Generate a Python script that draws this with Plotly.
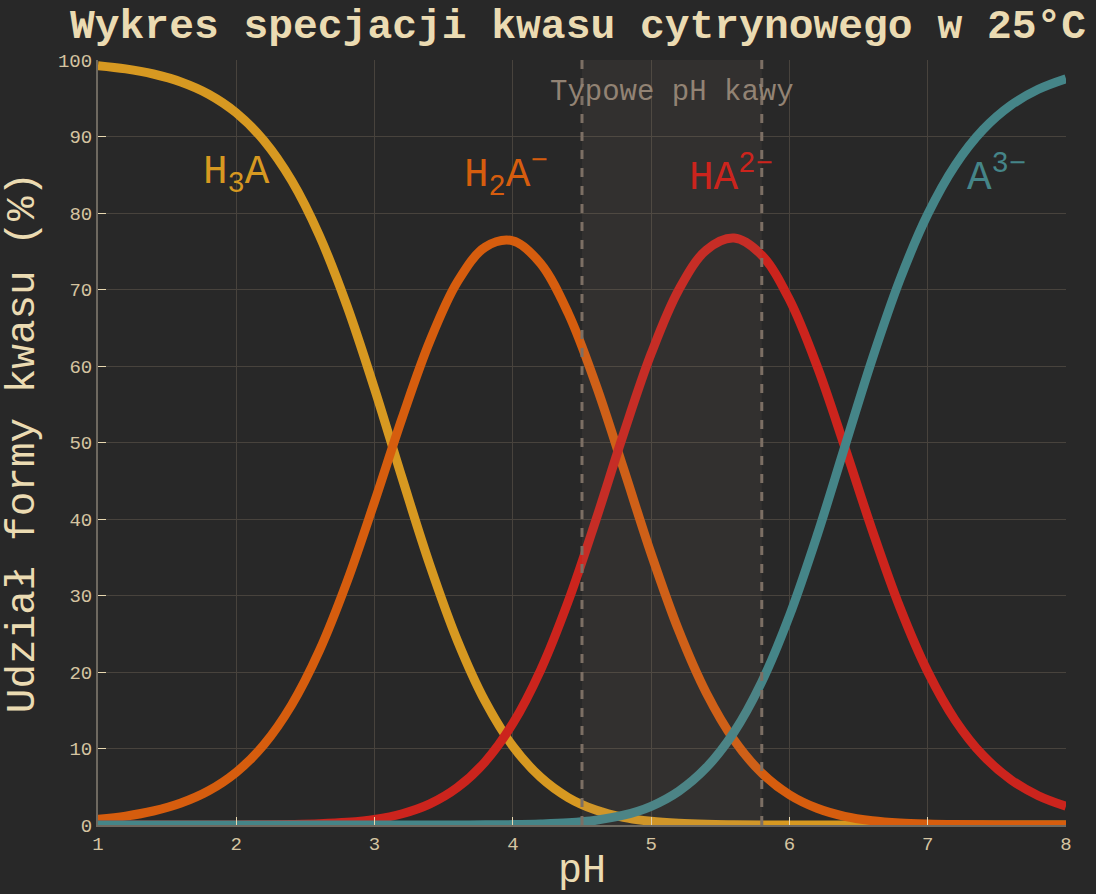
import plotly.graph_objects as go

ph = [1.0, 1.2, 1.4, 1.6, 1.8, 2.0, 2.2, 2.4, 2.6, 2.8, 3.0, 3.2, 3.4, 3.6, 3.8,
      4.0, 4.2, 4.4, 4.6, 4.8, 5.0, 5.2, 5.4, 5.6, 5.8, 6.0, 6.2, 6.4, 6.6, 6.8,
      7.0, 7.2, 7.4, 7.6, 7.8, 8.0]
h3a = [99.26, 98.84, 98.17, 97.13, 95.53, 93.09, 89.46, 84.24, 77.09, 67.89,
       57.01, 45.30, 33.97, 24.06, 16.15, 10.30, 6.25, 3.59, 1.95, 1.00,
       0.48, 0.22, 0.09, 0.04, 0.01, 0.01, 0.00, 0.00, 0.00, 0.00,
       0.00, 0.00, 0.00, 0.00, 0.00, 0.00]
h2a = [0.74, 1.16, 1.83, 2.87, 4.47, 6.90, 10.51, 15.69, 22.75, 31.76,
       42.26, 53.23, 63.26, 71.02, 75.54, 76.37, 73.41, 66.91, 57.58, 46.61,
       35.45, 25.40, 17.22, 11.09, 6.79, 3.95, 2.18, 1.13, 0.56, 0.26,
       0.12, 0.05, 0.02, 0.01, 0.00, 0.00]
ha = [0.00, 0.00, 0.00, 0.00, 0.01, 0.01, 0.03, 0.07, 0.16, 0.35,
      0.73, 1.47, 2.76, 4.91, 8.28, 13.27, 20.22, 29.21, 39.84, 51.11,
      61.61, 69.97, 75.17, 76.72, 74.48, 68.69, 59.98, 49.43, 38.47, 28.40,
      20.05, 13.67, 9.09, 5.94, 3.83, 2.45]
a3 = [0.00, 0.00, 0.00, 0.00, 0.00, 0.00, 0.00, 0.00, 0.00, 0.00,
      0.00, 0.00, 0.00, 0.01, 0.02, 0.05, 0.13, 0.29, 0.63, 1.28,
      2.45, 4.42, 7.52, 12.16, 18.71, 27.35, 37.84, 49.43, 60.97, 71.34,
      79.83, 86.28, 90.89, 94.06, 96.17, 97.55]

series_names = ["H<sub>3</sub>A", "H<sub>2</sub>A<sup>−</sup>", "HA<sup>2−</sup>", "A<sup>3−</sup>"]
series_vals = [h3a, h2a, ha, a3]
colors = ["#d79921", "#d65d0e", "#cc241d", "#458588"]
label_x = [2.0, 3.95, 5.58, 7.5]
label_y = [85, 85, 85, 85]

coffee_range = [4.5, 5.8]
coffee_label = "Typowe pH kawy"

FONT = "Courier New, Courier, Nimbus Mono PS, Liberation Mono, monospace"
BG = "#282828"
FG = "#ebdbb2"

fig = go.Figure()
for name, vals, col in zip(series_names, series_vals, colors):
    fig.add_trace(go.Scatter(x=ph, y=vals, mode="lines", name=name,
                             line=dict(color=col, width=9, shape="spline"),
                             cliponaxis=False, showlegend=False))

fig.add_shape(type="rect", xref="x", yref="paper", x0=coffee_range[0], x1=coffee_range[1],
              y0=0, y1=1, fillcolor="rgba(146,131,116,0.10)", line_width=0, layer="above")
for xv in coffee_range:
    fig.add_shape(type="line", xref="x", yref="paper", x0=xv, x1=xv, y0=0, y1=1,
                  line=dict(color="#7c6f64", width=3, dash="dash"), layer="above")

fig.add_annotation(x=sum(coffee_range) / 2, y=95.7, text=coffee_label, showarrow=False,
                   font=dict(family=FONT, size=29, color="#928374"))

for name, col, lx, ly in zip(series_names, colors, label_x, label_y):
    fig.add_annotation(x=lx, y=ly, text=name, showarrow=False,
                       font=dict(family=FONT, size=41, color=col))

fig.update_layout(
    width=1096, height=894,
    paper_bgcolor=BG, plot_bgcolor=BG,
    margin=dict(l=98, r=30, t=60, b=69, autoexpand=False),
    title=dict(text="<b>Wykres specjacji kwasu cytrynowego w 25°C</b>",
               x=70 / 1096, xanchor="left", xref="container",
               y=1 - 24 / 894, yanchor="middle", yref="container",
               font=dict(family=FONT, size=41.3, color=FG)),
    font=dict(family=FONT, color=FG),
)
fig.update_xaxes(range=[1, 8], tickvals=[1, 2, 3, 4, 5, 6, 7, 8], automargin=False,
                 showgrid=True, gridcolor="#48433d", gridwidth=1, zeroline=False,
                 showline=True, linecolor="#6e6960", linewidth=2,
                 ticks="inside", ticklen=8, tickcolor="#e8d8b0", tickwidth=1,
                 tickfont=dict(family=FONT, size=19, color="#d5c4a1"),
                 title=dict(text="pH", font=dict(family=FONT, size=40, color=FG), standoff=4))
fig.update_yaxes(range=[0, 100], tickvals=list(range(0, 101, 10)), automargin=False,
                 showgrid=True, gridcolor="#48433d", gridwidth=1, zeroline=False,
                 showline=True, linecolor="#6e6960", linewidth=2,
                 ticks="inside", ticklen=8, tickcolor="#e8d8b0", tickwidth=1,
                 tickfont=dict(family=FONT, size=19, color="#d5c4a1"),
                 title=dict(text="Udział formy kwasu (%)", font=dict(family=FONT, size=41, color=FG), standoff=14))

fig.write_html("out.html")
